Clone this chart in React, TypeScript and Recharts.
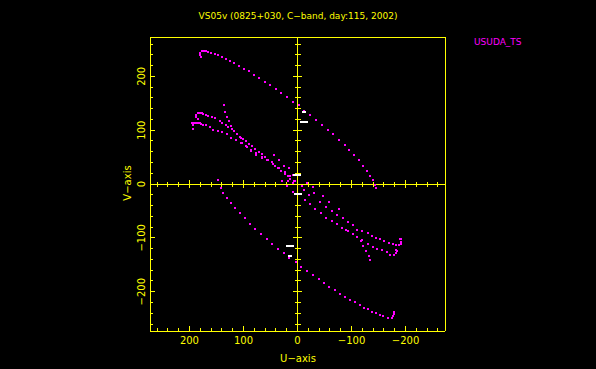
import React from 'react';
import { ScatterChart, Scatter, XAxis, YAxis, ReferenceLine } from 'recharts';

const YELLOW = '#ffff00';
const MAGENTA = '#ff00ff';
const FONT = '"DejaVu Sans", sans-serif';

// axis ticks (same on U and V)
const tickValues = [
  -260, -240, -220, -200, -180, -160, -140, -120, -100, -80, -60, -40, -20, 0,
  20, 40, 60, 80, 100, 120, 140, 160, 180, 200, 220, 240, 260,
];
const majorTicks = [-200, -100, 0, 100, 200];
const axisDomain = [-273, 273];

// uv tracks for USUDA_TS, [u, v]
const trackA: [number, number][] = [
  [181, 244], [181, 239], [179, 235], [176, 247], [173, 247], [170, 247], [165, 245],
  [160, 244], [153, 241], [147, 239], [140, 236], [133, 233], [125, 228], [117, 224],
  [108, 220], [99, 214], [90, 209], [81, 203], [71, 196], [61, 190], [51, 183],
  [40, 176], [30, 169], [20, 161], [9, 153], [-2, 146], [-12, 136], [-24, 128],
  [-34, 119], [-45, 110], [-56, 101], [-66, 92], [-76, 82], [-87, 73], [-96, 63],
  [-105, 54], [-114, 44], [-122, 34], [-129, 25], [-135, 15], [-140, 7], [-144, -2],
  [-146, -8],
];
const trackAConj: [number, number][] = [
  [148, 8], [142, -7], [137, -17], [130, -26], [124, -35], [115, -44], [107, -54],
  [98, -64], [88, -74], [78, -83], [67, -93], [57, -102], [47, -111], [36, -120],
  [25, -129], [15, -137], [2, -145], [-7, -154], [-18, -162], [-29, -169], [-40, -177],
  [-49, -184], [-59, -191], [-69, -197], [-79, -204], [-88, -209], [-98, -215],
  [-107, -220], [-116, -225], [-124, -230], [-131, -233], [-138, -237], [-145, -240],
  [-152, -243], [-159, -246], [-167, -248], [-174, -248], [-177, -245], [-179, -241],
  [-178, -237],
];
const trackB1: [number, number][] = [
  [177, 132], [181, 132], [185, 132], [188, 128], [187, 125], [185, 120], [175, 130],
  [170, 128], [165, 126], [159, 124], [153, 122], [144, 117], [139, 113], [133, 109],
  [128, 106], [122, 102], [117, 98], [112, 93], [106, 88], [100, 84], [95, 80],
  [89, 75], [84, 70], [78, 65], [72, 60], [66, 56], [60, 51], [54, 45], [48, 40],
  [42, 34], [36, 29], [30, 24], [24, 19], [18, 14], [13, 10],
];
const trackB2: [number, number][] = [
  [196, 113], [192, 113], [188, 113], [184, 113], [181, 113], [194, 110], [193, 102],
  [178, 112], [174, 110], [169, 109], [162, 106], [156, 101], [148, 99], [140, 97],
  [131, 93], [123, 86], [114, 81], [104, 77], [96, 70], [86, 62], [76, 57], [66, 51],
  [56, 44], [45, 38], [35, 30], [24, 22], [14, 14], [6, 6],
];
const trackB3: [number, number][] = [
  [136, 147], [134, 134], [130, 125], [127, 117], [123, 107], [117, 99], [112, 93],
  [105, 86], [103, 76], [93, 69], [86, 64], [77, 54], [66, 48], [43, 53], [34, 45],
  [25, 34], [15, 30], [9, 17],
];
const trackC1: [number, number][] = [
  [8, -14], [-2, -19], [-12, -12], [-22, -20], [-31, -17], [-42, -34], [-48, -23],
  [-59, -33], [-53, -42], [-64, -51], [-73, -57], [-77, -46], [-85, -63], [-94, -71],
  [-102, -77], [-110, -85], [-119, -88], [-130, -91], [-138, -96], [-145, -100],
  [-153, -103], [-161, -106], [-169, -109], [-177, -111], [-183, -113], [-188, -114],
  [-192, -111], [-192, -107], [-192, -103], [-190, -102],
];
const trackC2: [number, number][] = [
  [-13, -30], [-23, -38], [-33, -46], [-43, -54], [-53, -63], [-64, -69], [-74, -75],
  [-82, -82], [-93, -88], [-103, -92], [-111, -98], [-120, -104], [-130, -112],
  [-139, -117], [-148, -120], [-156, -123], [-165, -127], [-172, -131], [-179, -132],
  [-183, -129], [-185, -125], [-183, -122],
];
const trackC3: [number, number][] = [
  [-90, -85], [-117, -106], [-122, -116], [-127, -125], [-132, -134], [-134, -142],
];
const nearOrigin: [number, number][] = [
  [28, 5], [19, -4], [9, 2], [18, 5], [4, 6], [-9, -4], [-17, 2], [-28, -6],
];
const whiteLong: [number, number][] = [[-12, 115], [1, 17], [0, -19], [13, -116]];
const whiteShort: [number, number][] = [[-12, 134], [13, -134]];

const toPoints = (arr: [number, number][]) => arr.map(([u, v]) => ({ u, v }));

const magentaPoints = toPoints([
  ...trackA, ...trackAConj, ...trackB1, ...trackB2, ...trackB3,
  ...trackC1, ...trackC2, ...trackC3, ...nearOrigin,
]);

const minorTicks = tickValues.filter(t => t !== 0 && !majorTicks.includes(t));
const majorOffAxis = majorTicks.filter(t => t !== 0);

const fmt = (v: number) => (v < 0 ? '\u2212' + Math.abs(v) : String(v));
const isMajor = (v: number) => majorTicks.includes(v);

function BottomTick({ x, y, payload }: any) {
  const major = isMajor(payload.value);
  return (
    <g>
      <line x1={x} y1={y} x2={x} y2={y - (major ? 5 : 3)} stroke={YELLOW} />
      {major && (
        <text x={x} y={y + 13} textAnchor="middle" fill={YELLOW} fontSize={10} fontFamily={FONT}>
          {fmt(payload.value)}
        </text>
      )}
    </g>
  );
}

function TopTick({ x, y, payload }: any) {
  const major = isMajor(payload.value);
  return <line x1={x} y1={y} x2={x} y2={y + (major ? 5 : 3)} stroke={YELLOW} />;
}

function LeftTick({ x, y, payload }: any) {
  const major = isMajor(payload.value);
  const lx = x - 5;
  return (
    <g>
      <line x1={x} y1={y} x2={x + (major ? 5 : 3)} y2={y} stroke={YELLOW} />
      {major && (
        <text
          x={lx}
          y={y}
          transform={`rotate(-90 ${lx} ${y})`}
          textAnchor="middle"
          fill={YELLOW}
          fontSize={10}
          fontFamily={FONT}
        >
          {fmt(payload.value)}
        </text>
      )}
    </g>
  );
}

function RightTick({ x, y, payload }: any) {
  const major = isMajor(payload.value);
  return <line x1={x} y1={y} x2={x - (major ? 5 : 3)} y2={y} stroke={YELLOW} />;
}

const dot = (p: any) => <rect x={p.cx - 1} y={p.cy - 1} width={2} height={2} fill={MAGENTA} />;
const dashLong = (p: any) => <rect x={p.cx - 4} y={p.cy - 1} width={8} height={2} fill="#ffffff" />;
const dashShort = (p: any) => <rect x={p.cx - 2} y={p.cy - 1} width={4} height={2} fill="#ffffff" />;
const hTick = (len: number) => (p: any) =>
  <line x1={p.cx - len} y1={p.cy} x2={p.cx + len} y2={p.cy} stroke={YELLOW} />;
const vTick = (len: number) => (p: any) =>
  <line x1={p.cx} y1={p.cy - len} x2={p.cx} y2={p.cy + len} stroke={YELLOW} />;

export default function App() {
  return (
    <div
      style={{
        position: 'absolute',
        left: 0,
        top: 0,
        width: 596,
        height: 369,
        background: '#000',
        shapeRendering: 'crispEdges',
      }}
    >
      <ScatterChart width={596} height={369} margin={{ top: 36, right: 150, bottom: 8, left: 120 }}>
        <XAxis
          type="number"
          dataKey="u"
          domain={axisDomain}
          reversed
          ticks={tickValues}
          interval={0}
          height={30}
          tickSize={0}
          tickMargin={0}
          tickLine={false}
          axisLine={{ stroke: YELLOW }}
          tick={<BottomTick />}
        />
        <XAxis
          xAxisId="top"
          orientation="top"
          type="number"
          dataKey="u"
          domain={axisDomain}
          reversed
          ticks={tickValues}
          interval={0}
          height={1}
          tickSize={0}
          tickMargin={0}
          tickLine={false}
          axisLine={{ stroke: YELLOW }}
          tick={<TopTick />}
        />
        <YAxis
          type="number"
          dataKey="v"
          domain={axisDomain}
          ticks={tickValues}
          interval={0}
          width={30}
          tickSize={0}
          tickMargin={0}
          tickLine={false}
          axisLine={{ stroke: YELLOW }}
          tick={<LeftTick />}
        />
        <YAxis
          yAxisId="right"
          orientation="right"
          type="number"
          dataKey="v"
          domain={axisDomain}
          ticks={tickValues}
          interval={0}
          width={1}
          tickSize={0}
          tickMargin={0}
          tickLine={false}
          axisLine={{ stroke: YELLOW }}
          tick={<RightTick />}
        />
        <ReferenceLine x={0} stroke={YELLOW} />
        <ReferenceLine y={0} stroke={YELLOW} />
        <Scatter data={minorTicks.map(t => ({ u: 0, v: t }))} shape={hTick(3)} isAnimationActive={false} />
        <Scatter data={majorOffAxis.map(t => ({ u: 0, v: t }))} shape={hTick(4.5)} isAnimationActive={false} />
        <Scatter data={minorTicks.map(t => ({ u: t, v: 0 }))} shape={vTick(2.5)} isAnimationActive={false} />
        <Scatter data={majorOffAxis.map(t => ({ u: t, v: 0 }))} shape={vTick(4)} isAnimationActive={false} />
        <Scatter data={magentaPoints} shape={dot} isAnimationActive={false} />
        <Scatter data={toPoints(whiteLong)} shape={dashLong} isAnimationActive={false} />
        <Scatter data={toPoints(whiteShort)} shape={dashShort} isAnimationActive={false} />
      </ScatterChart>
      <svg
        width={596}
        height={369}
        style={{ position: 'absolute', left: 0, top: 0, pointerEvents: 'none' }}
      >
        <text x={298} y={19} textAnchor="middle" fill={YELLOW} fontSize={9} fontFamily={FONT}>
          VS05v (0825+030, C{'\u2212'}band, day:115, 2002)
        </text>
        <text x={474} y={45} fill={MAGENTA} fontSize={9} fontFamily={FONT}>
          USUDA_TS
        </text>
        <text x={298} y={362} textAnchor="middle" fill={YELLOW} fontSize={10} fontFamily={FONT}>
          U{'\u2212'}axis
        </text>
        <text
          x={131}
          y={183}
          transform="rotate(-90 131 183)"
          textAnchor="middle"
          fill={YELLOW}
          fontSize={10}
          fontFamily={FONT}
        >
          V{'\u2212'}axis
        </text>
      </svg>
    </div>
  );
}
